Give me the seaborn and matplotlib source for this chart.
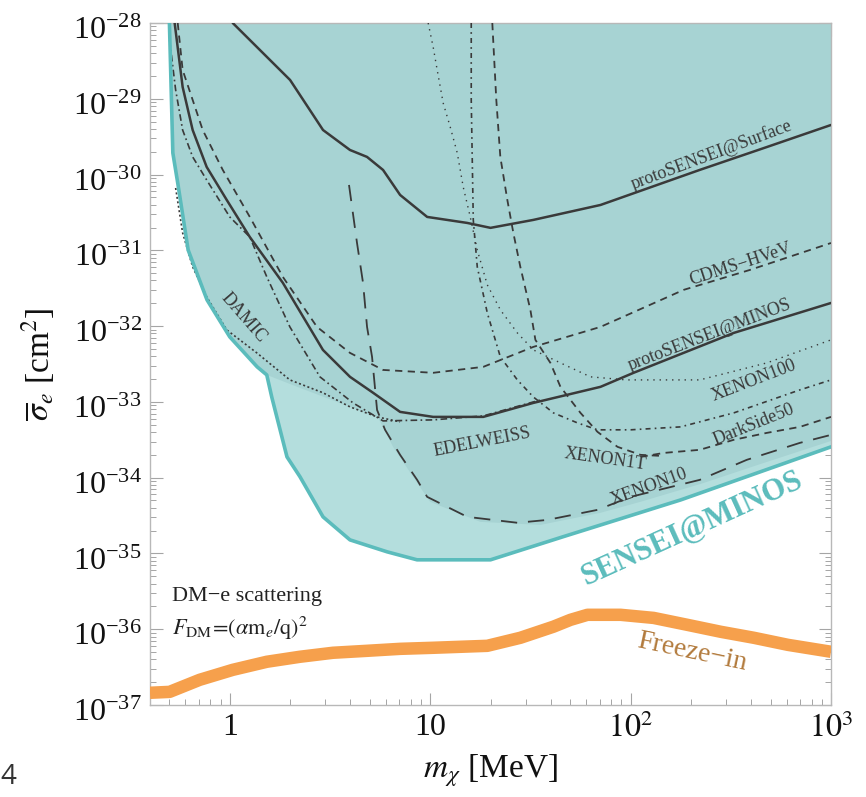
import numpy as np
import matplotlib
matplotlib.use("Agg")
import matplotlib.pyplot as plt
import seaborn as sns
from matplotlib.transforms import ScaledTranslation
from matplotlib.ticker import LogLocator, FixedLocator, FixedFormatter, NullFormatter, LogFormatterMathtext

# ---------------- data (mass in MeV, cross section in cm^2) ----------------
sensei_minos_m = [0.50, 0.52, 0.55, 0.62, 0.77, 1.0, 1.37, 1.53, 1.62, 1.93, 2.24, 2.92, 3.98, 6.1, 8.6, 20, 46, 178, 1000]
sensei_minos_s = [1.0e-28, 1.93e-30, 7.76e-31, 1.01e-31, 2.22e-32, 7.21e-33, 2.90e-33, 2.27e-33, 1.16e-33, 1.88e-34,
                  1.03e-34, 3.04e-35, 1.51e-35, 1.05e-35, 8.24e-36, 8.24e-36, 1.66e-35, 5.09e-35, 2.55e-34]

# envelope of earlier constraints (dark shaded region)
envelope_m = [0.50, 0.52, 0.55, 0.62, 0.77, 1.0, 1.37, 1.53, 2.24, 3.98, 5.5, 6.53, 8.61, 10, 17.8, 35.5, 70.8, 112, 224, 447, 1000]
envelope_s = [1.0e-28, 1.93e-30, 7.76e-31, 1.01e-31, 2.22e-32, 7.21e-33, 2.90e-33, 2.27e-33, 1.53e-33, 8.59e-34, 6.15e-34,
              2.55e-34, 8.53e-35, 4.80e-35, 2.61e-35, 2.38e-35, 3.44e-35, 4.80e-35, 8.28e-35, 1.52e-34, 3.05e-34]

surface_m = [1.035, 2.0, 2.92, 3.98, 4.84, 5.82, 7.08, 9.66, 15.3, 20.0, 32.7, 70.8, 221, 479, 1000]
surface_s = [1e-28, 1.77e-29, 3.87e-30, 2.11e-30, 1.71e-30, 1.15e-30, 5.38e-31, 2.76e-31, 2.30e-31, 1.98e-31,
             2.52e-31, 3.97e-31, 1.15e-30, 2.31e-30, 4.51e-30]

proto_minos_m = [0.531, 0.582, 0.653, 0.767, 0.966, 1.259, 1.841, 2.917, 3.981, 5.188, 7.079, 10.35, 18.41, 32.73, 70.8, 103.5, 327, 1000]
proto_minos_s = [1e-28, 1.43e-29, 3.87e-30, 1.26e-30, 4.62e-31, 1.50e-31, 3.72e-32, 4.85e-33, 2.14e-33, 1.32e-33,
                 7.38e-34, 6.34e-34, 6.34e-34, 9.70e-34, 1.58e-33, 2.42e-33, 8.13e-33, 2.02e-32]

cdms_m = [0.55, 0.582, 0.733, 0.923, 1.259, 1.841, 2.723, 3.981, 5.821, 10.35, 18.41, 32.73, 70.8, 184.1, 393.6, 1000]
cdms_s = [1e-28, 2.40e-29, 3.87e-30, 1.15e-30, 2.76e-31, 4.46e-32, 9.77e-33, 4.43e-33, 2.64e-33, 2.42e-33,
          2.90e-33, 5.32e-33, 9.77e-33, 3.01e-32, 5.51e-32, 1.25e-31]

damic_m = [0.537, 0.582, 0.653, 0.767, 0.966, 1.365, 1.995, 2.917, 3.981, 5.433, 7.079]
damic_s = [6.65e-31, 1.70e-31, 6.04e-32, 2.43e-32, 8.91e-33, 4.43e-33, 1.95e-33, 1.32e-33, 8.59e-34, 6.34e-34, 5.45e-34]

edelweiss_m = [0.501, 0.537, 0.582, 0.653, 0.767, 1.0, 1.259, 1.531, 1.995, 2.818, 4.121, 5.821, 10.35, 18.41, 35.48]
edelweiss_s = [5.97e-29, 1.31e-29, 3.87e-30, 1.71e-30, 8.49e-31, 2.76e-31, 1.50e-31, 4.46e-32, 9.77e-33, 2.14e-33,
               9.70e-34, 5.61e-34, 5.79e-34, 6.53e-34, 1.06e-33]

xenon10_m = [3.936, 4.315, 4.624, 4.842, 5.129, 5.433, 5.957, 7.079, 8.61, 9.66, 15.31, 27.23, 38.46, 68.39, 100, 221.3, 380.2, 699.8, 1000]
xenon10_s = [7.29e-31, 1.25e-31, 3.72e-32, 9.77e-33, 3.93e-33, 7.83e-34, 4.28e-34, 2.00e-34, 9.35e-35, 5.58e-35,
             3.04e-35, 2.54e-35, 2.77e-35, 3.76e-35, 5.58e-35, 9.35e-35, 1.72e-34, 2.88e-34, 3.67e-34]

xenon100_m = [16.03, 16.03, 16.22, 16.41, 17.18, 18.2, 19.28, 22.39, 27.23, 32.73, 41.21, 54.33, 68.39, 100, 177.8, 327.3, 699.8, 1000]
xenon100_s = [1e-28, 9.64e-30, 1.56e-30, 2.52e-31, 6.04e-32, 3.01e-32, 1.49e-32, 3.93e-33, 1.95e-33, 1.16e-33,
              7.16e-34, 5.28e-34, 4.28e-34, 4.28e-34, 4.68e-34, 7.16e-34, 1.44e-33, 1.95e-33]

dotted_m = [9.772, 10.35, 10.84, 11.61, 12.59, 13.65, 14.62, 15.85, 17.18, 19.28, 22.39, 27.23, 32.73, 44.67, 63.1, 95.5, 221.3, 478.6, 1000]
dotted_s = [1e-28, 4.82e-29, 2.40e-29, 8.81e-30, 4.25e-30, 1.93e-30, 6.85e-31, 2.76e-31, 1.01e-31, 3.50e-32,
            1.64e-32, 8.13e-33, 4.85e-33, 3.27e-33, 2.14e-33, 1.95e-33, 1.95e-33, 3.27e-33, 6.58e-33]

xenon1t_m = [20.42, 21.38, 22.39, 24.27, 26.0, 28.18, 31.62, 33.5, 39.81, 44.67, 56.23, 68.39, 86.1, 112.2, 141.3]
xenon1t_s = [1e-28, 9.64e-30, 1.71e-30, 4.62e-31, 1.70e-31, 6.04e-32, 1.64e-32, 6.58e-33, 3.27e-33, 1.58e-33,
             7.16e-34, 4.02e-34, 2.55e-34, 2.00e-34, 1.94e-34]

darkside_m = [112.2, 146.2, 221.3, 327.3, 478.6, 699.8, 1000]
darkside_s = [1.88e-34, 2.12e-34, 2.33e-34, 3.16e-34, 3.90e-34, 4.68e-34, 6.34e-34]

freeze_m = [0.4, 0.501, 0.708, 1.035, 1.531, 2.239, 3.273, 4.842, 7.079, 10.35, 19.28, 28.18, 41.21, 50.12, 60.95,
            89.13, 130.3, 192.8, 281.8, 412.1, 609.5, 1000]
freeze_s = [1.45e-37, 1.49e-37, 2.15e-37, 2.91e-37, 3.72e-37, 4.33e-37, 4.89e-37, 5.19e-37, 5.51e-37, 5.69e-37,
            6.04e-37, 7.71e-37, 1.08e-36, 1.33e-36, 1.55e-36, 1.55e-36, 1.41e-36, 1.14e-36, 9.25e-37, 7.71e-37,
            6.22e-37, 5.04e-37]

x_major = [1, 10, 100, 1000]
x_major_labels = ['1', '10', r'$10^2$', r'$10^3$']
y_major = [1e-37, 1e-36, 1e-35, 1e-34, 1e-33, 1e-32, 1e-31, 1e-30, 1e-29, 1e-28]

# ---------------- style ----------------
sns.set_theme(style="ticks")
plt.rcParams['font.family'] = ['Liberation Serif', 'DejaVu Serif']
plt.rcParams['mathtext.fontset'] = 'stix'

W, H = 866, 797
fig = plt.figure(figsize=(W / 100, H / 100), dpi=100)
L, R, T, B = 150, 831, 23, 705
ax = fig.add_axes([L / W, 1 - B / H, (R - L) / W, (B - T) / H])
ax.set_xscale('log')
ax.set_yscale('log')
xmin, xmax, ymin, ymax = 0.4, 1000, 1e-37, 1e-28
ax.set_xlim(xmin, xmax)
ax.set_ylim(ymin, ymax)

TEAL_LIGHT = '#b4dedd'
TEAL_DARK = '#a7d3d3'
TEAL_EDGE = '#5bbcbc'
LINE = '#3a3a3a'

ax.fill(list(sensei_minos_m) + [xmax], list(sensei_minos_s) + [ymax], color=TEAL_LIGHT, lw=0, zorder=1)
ax.fill(list(envelope_m) + [xmax], list(envelope_s) + [ymax], color=TEAL_DARK, lw=0, zorder=1.1)

def line(m, s, **kw):
    sns.lineplot(x=m, y=s, sort=False, estimator=None, ax=ax, **kw)

line(surface_m, surface_s, color=LINE, lw=1.8, zorder=3)
line(proto_minos_m, proto_minos_s, color=LINE, lw=1.8, zorder=3)
line(cdms_m, cdms_s, color=LINE, lw=1.3, linestyle=(0, (4, 3)), zorder=3)
line(damic_m, damic_s, color=LINE, lw=1.2, linestyle=(0, (1.2, 1.5)), zorder=3)
line(edelweiss_m, edelweiss_s, color=LINE, lw=1.2, linestyle=(0, (4, 2, 1, 2)), zorder=3)
line(xenon10_m, xenon10_s, color=LINE, lw=1.3, linestyle=(0, (9, 6)), zorder=3)
line(xenon100_m, xenon100_s, color=LINE, lw=1.2, linestyle=(0, (3, 2.5, 1, 2.5)), zorder=3)
line(dotted_m, dotted_s, color=LINE, lw=1.0, linestyle=(0, (1, 3.5)), zorder=3)
line(xenon1t_m, xenon1t_s, color=LINE, lw=1.3, linestyle=(0, (4, 3)), zorder=3)
line(darkside_m, darkside_s, color=LINE, lw=1.3, linestyle=(0, (4, 3)), zorder=3)
line(sensei_minos_m, sensei_minos_s, color=TEAL_EDGE, lw=2.6, zorder=4)
line(freeze_m, freeze_s, color='#f6a04c', lw=9, zorder=4, solid_capstyle='butt')

# ---------------- axes ----------------
ax.xaxis.set_major_locator(FixedLocator(x_major))
ax.xaxis.set_major_formatter(FixedFormatter(x_major_labels))
ax.xaxis.set_minor_locator(LogLocator(base=10, subs=np.arange(2, 10), numticks=30))
ax.xaxis.set_minor_formatter(NullFormatter())
ax.yaxis.set_major_locator(FixedLocator(y_major))
ax.yaxis.set_major_formatter(LogFormatterMathtext())
ax.yaxis.set_minor_locator(LogLocator(base=10, subs=np.arange(2, 10), numticks=30))
ax.yaxis.set_minor_formatter(NullFormatter())

ax.tick_params(which='both', direction='in', top=True, right=True, color='#a5a5a5')
ax.tick_params(which='major', length=9, width=0.8, labelsize=23, pad=6, labelcolor='#111111')
ax.tick_params(which='minor', length=4.5, width=0.7)
for s in ax.spines.values():
    s.set_color('#b8b8b8')
    s.set_linewidth(1.0)

ax.set_xlabel(r'$m_\chi$ [MeV]', fontsize=24, color='#111111')
ax.set_ylabel(r'$\overline{\sigma}_e$ [cm$^2$]', fontsize=24, color='#111111')
ax.xaxis.set_label_coords(0.5, -0.069)
ax.yaxis.set_label_coords(-0.137, 0.5)

def at(px, py):
    return ((px - L) / (R - L), (B - py) / (B - T))

labels = [
    ('protoSENSEI@Surface', 712, 155, 20.5, 13),
    ('CDMS−HVeV', 740, 264, 18, 13),
    ('protoSENSEI@MINOS', 710, 335, 21, 13),
    ('XENON100', 754, 381, 21, 13),
    ('DarkSide50', 754, 425, 22, 13),
    ('XENON10', 649, 487, 20, 13),
    ('XENON1T', 605, 459, -8, 13),
    ('EDELWEISS', 482, 442, 11, 13),
    ('DAMIC', 244, 318, -49, 13),
]
for txt, px, py, rot, fs in labels:
    ax.text(*at(px, py), txt, transform=ax.transAxes, rotation=rot, rotation_mode='anchor',
            ha='center', va='center', fontsize=fs, color='#3a3a3a', zorder=5)

ax.text(*at(692, 528), 'SENSEI@MINOS', transform=ax.transAxes, rotation=24.5, rotation_mode='anchor',
        ha='center', va='center', fontsize=22, fontweight='bold', color=TEAL_EDGE, zorder=5)
ax.text(*at(692, 652), 'Freeze−in', transform=ax.transAxes, rotation=-12, rotation_mode='anchor',
        ha='center', va='center', fontsize=20, color='#b27a3c', zorder=5)
ax.text(*at(172, 597), 'DM−e scattering', transform=ax.transAxes, ha='left', va='center',
        fontsize=16, color='#222222', zorder=5)
ax.text(*at(172, 628), r'$F_{\rm DM}\!=\!(\alpha{\rm m}_e/{\rm q})^2$', transform=ax.transAxes,
        ha='left', va='center', fontsize=16, color='#222222', zorder=5)

fig.text(0.0, 1 - 777 / H, '4', ha='left', va='center', fontsize=20, color='#333333',
         family=['Open Sans', 'DejaVu Sans'])

# nudge y tick labels slightly down so the top label sits inside the canvas
fig.canvas.draw()
shift = ScaledTranslation(0, -5 / 100, fig.dpi_scale_trans)
for t in ax.yaxis.get_major_ticks():
    t.label1.set_transform(t.label1.get_transform() + shift)

fig.savefig('out.png', dpi=100)
